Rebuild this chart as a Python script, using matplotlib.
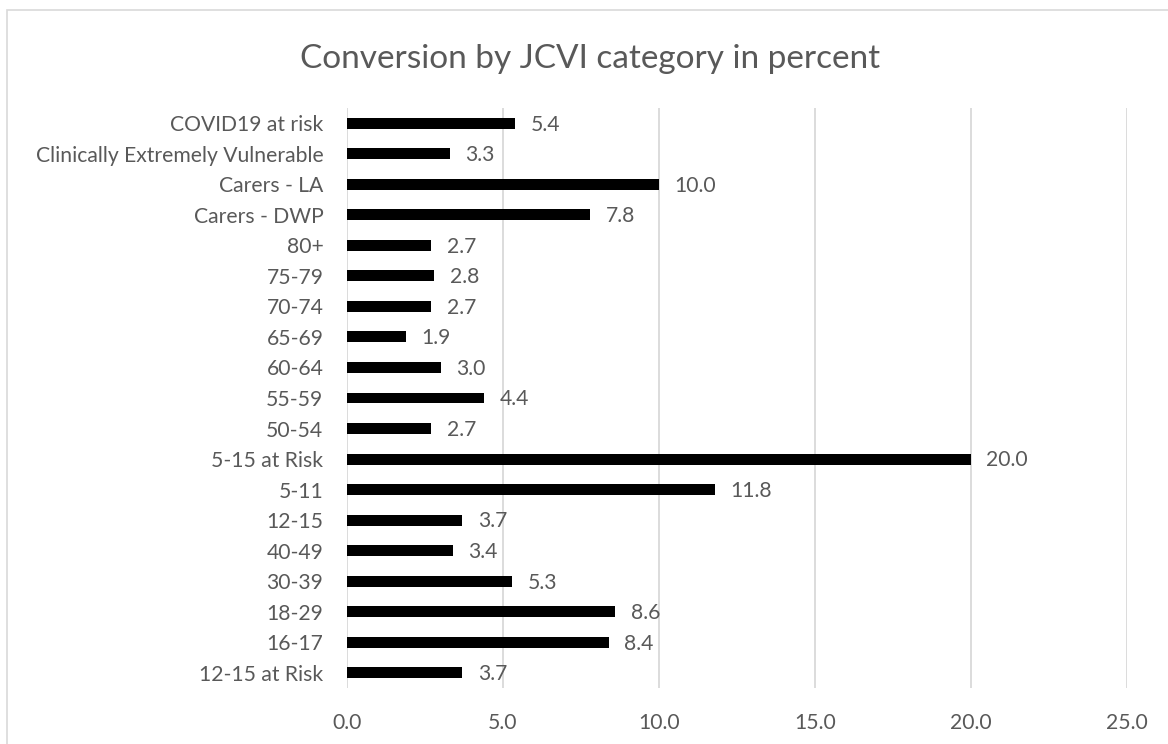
import matplotlib
matplotlib.use("Agg")
import matplotlib.pyplot as plt
from matplotlib.patches import Rectangle

categories = [
    "COVID19 at risk", "Clinically Extremely Vulnerable", "Carers - LA",
    "Carers - DWP", "80+", "75-79", "70-74", "65-69", "60-64", "55-59",
    "50-54", "5-15 at Risk", "5-11", "12-15", "40-49", "30-39", "18-29",
    "16-17", "12-15 at Risk",
]
values = [5.4, 3.3, 10.0, 7.8, 2.7, 2.8, 2.7, 1.9, 3.0, 4.4,
          2.7, 20.0, 11.8, 3.7, 3.4, 5.3, 8.6, 8.4, 3.7]
x_ticks = [0, 5, 10, 15, 20, 25]
title = "Conversion by JCVI category in percent"

TEXT = "#595959"
GRID = "#d9d9d9"
plt.rcParams["font.family"] = ["Lato", "DejaVu Sans"]

W, H = 1168, 744
fig = plt.figure(figsize=(W / 100, H / 100), dpi=100)
fig.patch.set_facecolor("white")

# chart-area frame (continues past the right and bottom edges)
fig.patches.append(Rectangle((6.5 / W, -0.1), 1.2, (H - 9.5) / H + 0.1,
                             transform=fig.transFigure, fill=False,
                             edgecolor=GRID, linewidth=1.2))

left, right = 347 / W, 1127 / W
top, bottom = (H - 108) / H, (H - 688) / H
ax = fig.add_axes([left, bottom, right - left, top - bottom])

n = len(categories)
ypos = list(range(n))
ax.barh(ypos, values, height=0.36, color="black", zorder=3)
ax.set_ylim(n - 0.5, -0.5)
ax.set_xlim(x_ticks[0], x_ticks[-1])

ax.set_yticks(ypos)
ax.set_yticklabels(categories)
ax.set_xticks(x_ticks)
ax.set_xticklabels([f"{t:.1f}" for t in x_ticks])
ax.tick_params(axis="both", length=0, labelsize=15.2, labelcolor=TEXT)
ax.tick_params(axis="y", pad=17)
ax.tick_params(axis="x", pad=18)

ax.grid(axis="x", color=GRID, linewidth=1.3, zorder=0)
for s in ax.spines.values():
    s.set_visible(False)

for y, v in zip(ypos, values):
    ax.annotate(f"{v:.1f}", xy=(v, y), xytext=(11, -1),
                textcoords="offset points", ha="left", va="center",
                fontsize=15.2, color=TEXT)

fig.text(590 / W, 1 - 59 / H, title, ha="center", va="center",
         fontsize=24, color=TEXT)

fig.savefig("out.png", dpi=100)
